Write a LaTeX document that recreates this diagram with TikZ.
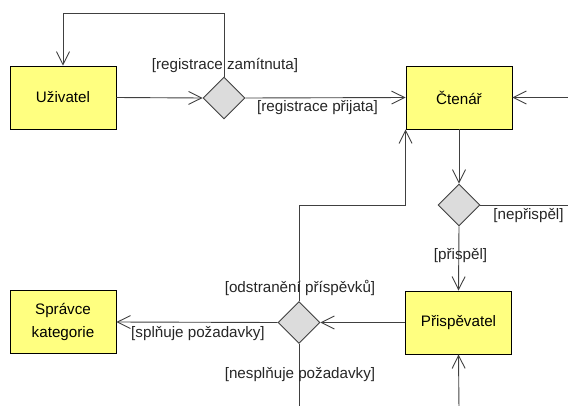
\documentclass[tikz,border=0pt]{standalone}
\usepackage{fontspec}
\setmainfont{Liberation Sans}
\usetikzlibrary{arrows.meta,shapes.geometric}
\definecolor{boxfill}{HTML}{FFFF80}
\definecolor{decfill}{HTML}{DCDCDC}
\definecolor{linec}{HTML}{404040}
\begin{document}
\begin{tikzpicture}[x=1pt,y=-1pt,
  font=\fontsize{15.2}{17}\selectfont,
  actor/.style={draw=black,fill=boxfill,line width=0.9pt,minimum width=106pt,minimum height=63pt,inner sep=0pt,align=center},
  decision/.style={draw=linec,fill=decfill,line width=0.9pt,diamond,aspect=1,minimum width=42pt,minimum height=42pt,inner sep=0pt},
  flow/.style={draw=linec,line width=0.9pt,-{Straight Barb[length=13pt,width=13pt,line width=0.9pt]}},
  plain/.style={draw=linec,line width=0.9pt},
  guard/.style={inner sep=0pt,text=black!85}]
\useasboundingbox (0,0) rectangle (568,405);

% activity boxes
\node[actor] (u) at (63,97.5) {Uživatel};
\node[actor] (c) at (459,97.5) {Čtenář};
\node[actor] (p) at (458.5,322.5) {Přispěvatel};
\node[actor,font=\fontsize{15.2}{22.5}\selectfont] (s) at (63,322) {Správce\\kategorie};

% decisions
\node[decision] (d1) at (224,98) {};
\node[decision] (d2) at (459,205) {};
\node[decision] (d3) at (299,322.5) {};

% open ends leaving the drawing area
\coordinate (inC) at (575,97.5);
\coordinate (outN) at (575,205);
\coordinate (inP) at (459,410);
\coordinate (outD) at (299,410);

% registration
\draw[flow] (u.east) -- (d1.west);
\draw[flow] (d1.north) -- (d1.north |- 0,13) -| (u.north);
\draw[flow] (d1.east) -- (c.west);
\draw[flow] (inC) -- (c.east);

% contribution
\draw[flow] (c.south) -- (d2.north);
\draw[plain] (d2.east) -- (outN);
\draw[flow] (d2.south) -- (p.north);
\draw[flow] (inP) -- (p.south);

% review of a contribution
\draw[flow] (p.west) -- (d3.east);
\draw[flow] (d3.west) -- (s.east);
\draw[flow] (d3.north) |- (c.south west |- d2.center) -- (c.south west);
\draw[plain] (d3.south) -- (outD);

% guards
\node[guard] (g1) at (225,65) {[registrace zamítnuta]};
\node[guard] (g2) at (317.5,108) {[registrace přijata]};
\node[guard] (g3) at (528.5,215.8) {[nepřispěl]};
\node[guard] (g4) at (460.5,255.5) {[přispěl]};
\node[guard] (g5) at (300,288) {[odstranění příspěvků]};
\node[guard] (g6) at (300,374.5) {[nesplňuje požadavky]};
\node[guard] (g7) at (198,334) {[splňuje požadavky]};
\end{tikzpicture}
\end{document}
